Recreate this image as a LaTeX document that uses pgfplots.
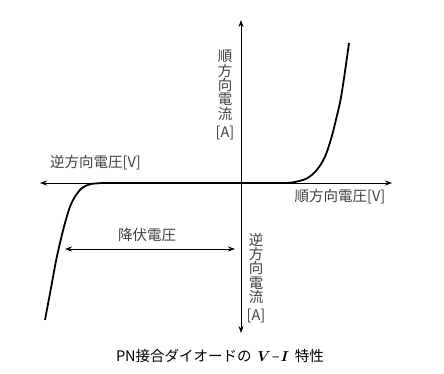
\documentclass[border=0pt]{standalone}
\usepackage{pgfplots}
\pgfplotsset{compat=1.18}
\usepackage{fontspec}
\usetikzlibrary{arrows.meta}
\newfontfamily\jp{Noto Sans CJK JP}
\definecolor{txt}{HTML}{404040}
\begin{document}
\begin{tikzpicture}
\begin{axis}[
  x=1pt, y=1pt,
  xmin=-201, xmax=151, ymin=-150, ymax=163,
  axis lines=middle,
  axis line style={line width=0.9pt, {Stealth[length=7pt,width=5pt]}-{Stealth[length=7pt,width=5pt]}},
  xtick=\empty, ytick=\empty,
  clip=false,
]
\path (axis cs:-241,183) rectangle (axis cs:203,-191);
% forward region
\addplot[line width=1.8pt, black, smooth, tension=0.55] coordinates {
  (0,0) (30,0) (46,0) (52,0.6) (65.7,4.5) (75.7,13) (84,26.3) (90.7,46.3) (95.7,66.3) (99.7,84) (103.5,108) (108,140)
};
% reverse region
\addplot[line width=1.8pt, black, smooth, tension=0.55] coordinates {
  (0,0) (-100,0) (-135,0) (-141,-0.2) (-151,-1.2) (-159.3,-5.3) (-166,-13.7) (-171,-23.7) (-176,-40) (-181,-60) (-185,-78) (-190,-105) (-196,-137)
};
\draw[line width=0.9pt, {Stealth[length=7pt,width=5pt]}-{Stealth[length=7pt,width=5pt]}] (axis cs:-176,-66) -- (axis cs:-6,-66);
\node[txt, font=\jp\fontsize{14.5}{14.3}\selectfont, align=center] at (axis cs:-16,88) {順\\方\\向\\電\\流\\[4pt]{[A]}};
\node[txt, font=\jp\fontsize{14.5}{14.3}\selectfont, align=center] at (axis cs:15,-95) {逆\\方\\向\\電\\流\\[4pt]{[A]}};
\node[txt, font=\jp\fontsize{14.5}{16}\selectfont] at (axis cs:-145.5,20) {逆方向電圧[V]};
\node[txt, font=\jp\fontsize{14.5}{16}\selectfont] at (axis cs:99,-14) {順方向電圧[V]};
\node[txt, font=\jp\fontsize{14.5}{16}\selectfont] at (axis cs:-94,-52) {降伏電圧};
\node[black, font=\jp\fontsize{14.5}{16}\selectfont] at (axis cs:-21,-173) {PN接合ダイオードの\hspace{0.4em}{\boldmath$V$}\kern1pt–\kern1pt{\boldmath$I$}\hspace{0.4em}特性};
\end{axis}
\end{tikzpicture}
\end{document}
